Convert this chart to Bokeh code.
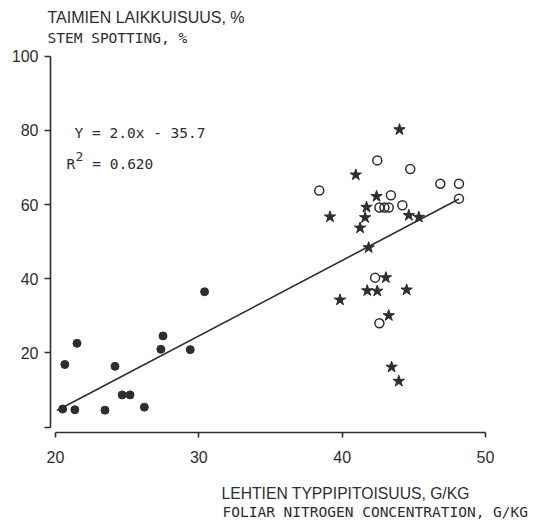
from bokeh.plotting import figure
from bokeh.models import LinearAxis, FixedTicker, Range1d, Label, Title
from bokeh.embed import file_html
from bokeh.resources import INLINE

# ---- data ----
dots_x = [20.5, 20.65, 21.5, 21.35, 23.45, 24.15, 24.65, 25.2, 26.2, 27.35, 27.5, 29.4, 30.4]
dots_y = [4.9, 16.9, 22.6, 4.7, 4.6, 16.4, 8.7, 8.7, 5.4, 21.0, 24.6, 20.9, 36.5]

circ_x = [38.4, 42.45, 44.75, 46.85, 48.15, 48.15, 43.4, 42.6, 42.95, 43.25, 44.2, 42.3, 42.6]
circ_y = [63.8, 71.9, 69.6, 65.6, 65.6, 61.6, 62.5, 59.2, 59.2, 59.2, 59.8, 40.3, 28.0]

star_x = [44.0, 40.95, 42.4, 41.7, 39.15, 41.6, 41.25, 44.65, 45.35, 41.85, 43.05, 41.75,
          42.45, 44.5, 39.85, 43.25, 43.45, 43.95]
star_y = [80.2, 68.0, 62.2, 59.3, 56.7, 56.5, 53.7, 57.1, 56.6, 48.4, 40.3, 36.8,
          36.7, 37.0, 34.3, 30.1, 16.2, 12.4]

fit_x = [20.1, 48.15]
fit_y = [4.5, 61.5]

x_ticks = [20, 30, 40, 50]
y_ticks = [0, 20, 40, 60, 80, 100]

INK = "#2e2e2e"
SANS = "Liberation Sans"
MONO = "DejaVu Sans Mono"

p = figure(width=540, height=522, output_backend="svg", toolbar_location=None,
           x_range=Range1d(19.65, 50.35), y_range=Range1d(-1.43, 102.6),
           x_axis_type=None, y_axis_type=None,
           min_border_left=50, min_border_right=50, min_border_top=46, min_border_bottom=90)
p.outline_line_color = None
p.xgrid.visible = False
p.ygrid.visible = False
p.background_fill_color = "white"
p.border_fill_color = "white"

xa = LinearAxis(ticker=FixedTicker(ticks=x_ticks), bounds=(20, 50))
ya = LinearAxis(ticker=FixedTicker(ticks=y_ticks), bounds=(0, 100),
                major_label_overrides={0: ""})
for ax in (xa, ya):
    ax.axis_line_color = INK
    ax.axis_line_width = 1.6
    ax.major_tick_line_color = INK
    ax.major_tick_line_width = 1.6
    ax.major_tick_in = 0
    ax.minor_tick_line_color = None
    ax.major_label_text_font = SANS
    ax.major_label_text_font_size = "16px"
    ax.major_label_text_color = INK
xa.major_tick_out = 5
xa.major_label_standoff = 13
ya.major_tick_out = 6
ya.major_label_standoff = 6
p.add_layout(xa, "below")
p.add_layout(ya, "left")

# outside titles (stacked outward from the frame)
p.add_layout(Title(text="STEM SPOTTING, %", align="left", offset=-3, standoff=2,
                   text_font=MONO, text_font_size="14.5px", text_color=INK,
                   text_font_style="normal"), "above")
p.add_layout(Title(text="TAIMIEN LAIKKUISUUS, %", align="left", offset=-3, standoff=2,
                   text_font=SANS, text_font_size="16px", text_color=INK,
                   text_font_style="normal"), "above")
# small spacer between tick labels and the x titles
p.add_layout(Title(text=" ", align="left", standoff=14, text_font_size="1px",
                   text_color=INK), "below")
p.add_layout(Title(text="LEHTIEN TYPPIPITOISUUS, G/KG", align="left", offset=171, standoff=0,
                   text_font=SANS, text_font_size="15.7px", text_color=INK,
                   text_font_style="normal"), "below")
p.add_layout(Title(text="FOLIAR NITROGEN CONCENTRATION, G/KG", align="left", offset=172, standoff=0,
                   text_font=MONO, text_font_size="14.5px", text_color=INK,
                   text_font_style="normal"), "below")

p.line(fit_x, fit_y, line_color=INK, line_width=1.6)
p.scatter(dots_x, dots_y, marker="circle", size=8, fill_color=INK, line_color=INK)
p.scatter(circ_x, circ_y, marker="circle", size=9, fill_color=None, line_color=INK, line_width=1.5)
p.scatter(star_x, star_y, marker="star", size=12, fill_color=INK, line_color=INK)

def lab(x, y, t, size):
    p.add_layout(Label(x=x, y=y, text=t, text_font=MONO, text_font_size=size,
                       text_color=INK, text_baseline="alphabetic", text_align="left"))

lab(21.33, 79.4, "Y = 2.0x - 35.7", "14.5px")
lab(20.77, 71.0, "R", "14.5px")
lab(21.4, 73.0, "2", "13px")
lab(22.56, 71.0, "= 0.620", "14.5px")

open("out.html", "w").write(file_html(p, INLINE))
